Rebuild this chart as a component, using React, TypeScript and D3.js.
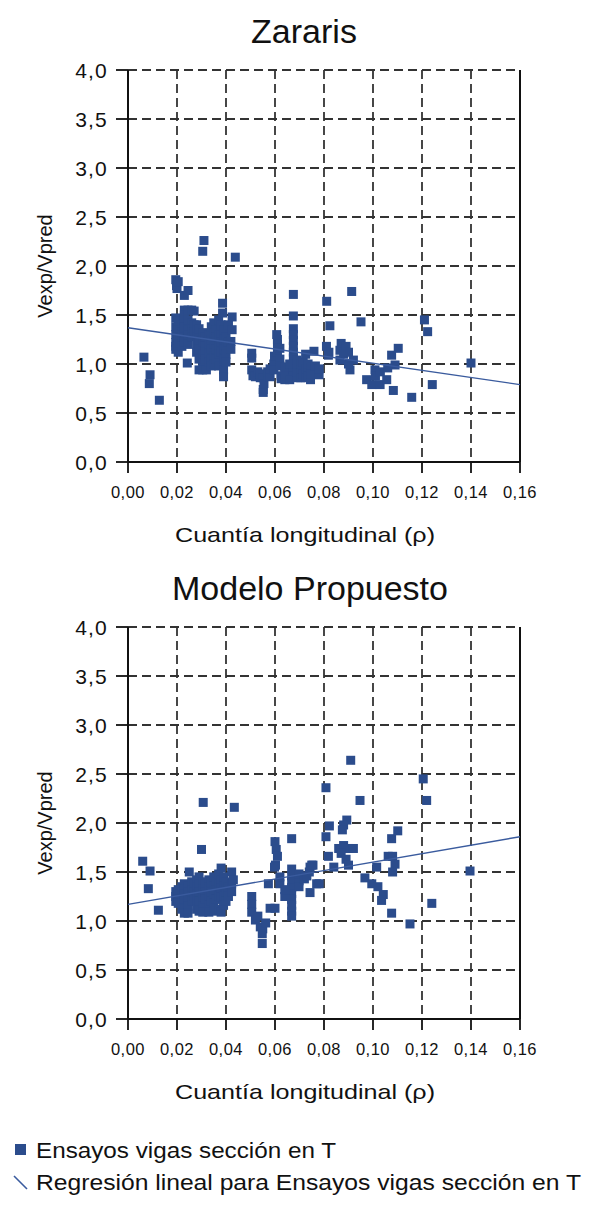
import React from "react";
import * as d3 from "d3";

const xTicks = [0, 0.02, 0.04, 0.06, 0.08, 0.1, 0.12, 0.14, 0.16];
const yTicks = [0, 0.5, 1, 1.5, 2, 2.5, 3, 3.5, 4];

const titles = ["Zararis", "Modelo Propuesto"];
const xTitle = "Cuantía longitudinal (ρ)";
const yTitle = "Vexp/Vpred";
const legendLabels = ["Ensayos vigas sección en T", "Regresión lineal para Ensayos vigas sección en T"];

// regression line endpoints [rho, ratio] at rho = 0 and rho = 0.16
const zararisRegression: [number, number][] = [[0, 1.37], [0.16, 0.79]];
const propuestoRegression: [number, number][] = [[0, 1.17], [0.16, 1.86]];

const zararisPoints: [number, number][] = [
  [0.0065, 1.07], [0.009, 0.89], [0.0087, 0.8], [0.0128, 0.63],
  [0.031, 2.26], [0.0305, 2.15], [0.0438, 2.09],
  [0.0195, 1.86], [0.0198, 1.8], [0.02, 1.77], [0.0195, 1.47], [0.0195, 1.38], [0.0195, 1.3], [0.0195, 1.22], [0.0195, 1.18], [0.0195, 1.15],
  [0.0205, 1.84], [0.0205, 1.44], [0.0205, 1.35], [0.0205, 1.28], [0.0205, 1.2], [0.0205, 1.12],
  [0.022, 1.4], [0.022, 1.33], [0.022, 1.25], [0.022, 1.18], [0.022, 1.3],
  [0.023, 1.7], [0.023, 1.55], [0.023, 1.5], [0.023, 1.45], [0.023, 1.38], [0.023, 1.28], [0.023, 1.22],
  [0.0245, 1.75], [0.0245, 1.55], [0.0245, 1.45], [0.0245, 1.35], [0.0245, 1.3], [0.0245, 1.2], [0.0242, 1.01],
  [0.026, 1.55], [0.026, 1.42], [0.026, 1.36], [0.026, 1.28],
  [0.027, 1.54], [0.027, 1.4], [0.027, 1.33],
  [0.028, 1.4], [0.028, 1.35], [0.028, 1.28], [0.028, 1.2], [0.028, 1.12],
  [0.029, 1.36], [0.029, 1.25], [0.029, 1.15], [0.029, 1.05], [0.029, 0.94],
  [0.0305, 1.32], [0.0305, 1.22], [0.0305, 1.1], [0.0305, 1.0], [0.0305, 0.94],
  [0.0315, 1.28], [0.0315, 1.18], [0.0315, 1.12], [0.0315, 1.05], [0.032, 0.94],
  [0.033, 1.3], [0.033, 1.2], [0.033, 1.1], [0.033, 1.02],
  [0.034, 1.38], [0.034, 1.25], [0.034, 1.15], [0.034, 1.05], [0.034, 0.98],
  [0.035, 1.42], [0.035, 1.32], [0.035, 1.2], [0.035, 1.08], [0.035, 1.0],
  [0.036, 1.35], [0.036, 1.28], [0.036, 1.15], [0.036, 1.05],
  [0.037, 1.45], [0.037, 1.3], [0.037, 1.18], [0.037, 1.1], [0.037, 0.98],
  [0.0386, 1.62], [0.0386, 1.52], [0.038, 1.4], [0.038, 1.3], [0.038, 1.22], [0.038, 1.12],
  [0.039, 1.35], [0.039, 1.25], [0.039, 1.15], [0.039, 1.05], [0.039, 0.94], [0.039, 0.87],
  [0.04, 1.28], [0.04, 1.18], [0.04, 1.1], [0.04, 1.02],
  [0.041, 1.4], [0.041, 1.22],
  [0.0425, 1.48], [0.0425, 1.35], [0.042, 1.23], [0.042, 1.15],
  [0.0505, 1.11], [0.0505, 1.06], [0.0505, 0.94], [0.051, 0.88],
  [0.052, 0.87], [0.053, 0.92], [0.054, 0.86], [0.054, 0.9],
  [0.0552, 0.86], [0.0552, 0.74], [0.0552, 0.71], [0.0555, 0.8],
  [0.057, 0.88], [0.057, 0.92], [0.058, 0.87], [0.058, 0.95],
  [0.0595, 1.0], [0.0595, 0.94], [0.0598, 1.08],
  [0.0607, 1.3], [0.061, 1.25], [0.061, 1.2], [0.061, 1.12],
  [0.062, 1.16], [0.062, 1.05], [0.062, 0.98], [0.0625, 0.88], [0.0625, 0.85],
  [0.064, 0.84], [0.064, 0.9], [0.064, 0.97],
  [0.0675, 1.71], [0.0675, 1.49], [0.0675, 1.36], [0.0675, 1.3], [0.0675, 1.24], [0.0675, 1.18], [0.0675, 1.12], [0.0675, 1.06], [0.0675, 1.0], [0.0675, 0.95], [0.0675, 0.88],
  [0.066, 0.84], [0.066, 1.0],
  [0.069, 0.86], [0.069, 0.92], [0.069, 1.0], [0.069, 1.04],
  [0.0705, 0.94], [0.0705, 1.0], [0.0705, 0.86],
  [0.0715, 0.9], [0.0715, 1.02], [0.0725, 1.1], [0.0725, 0.95], [0.0725, 0.86],
  [0.0735, 0.92], [0.0735, 0.88], [0.0735, 1.0],
  [0.0745, 0.84], [0.0745, 0.96], [0.0745, 0.9],
  [0.0759, 1.13], [0.0765, 0.98], [0.078, 0.89], [0.078, 0.95],
  [0.0811, 1.64], [0.0824, 1.39], [0.081, 1.18], [0.0818, 1.09], [0.082, 1.12],
  [0.0865, 1.14], [0.087, 1.21], [0.089, 1.18], [0.0865, 1.04], [0.088, 1.1], [0.0906, 0.94], [0.092, 1.04], [0.0913, 1.74], [0.09, 1.12], [0.09, 1.0],
  [0.0951, 1.43],
  [0.0974, 0.84], [0.0995, 0.79], [0.1008, 0.94], [0.1029, 0.79], [0.1056, 0.84], [0.1076, 1.09], [0.1103, 1.16], [0.1083, 0.73], [0.109, 0.99], [0.101, 0.88], [0.103, 0.92], [0.106, 0.96],
  [0.1158, 0.66], [0.121, 1.45], [0.1223, 1.33], [0.1242, 0.79], [0.14, 1.01],
];

const propuestoPoints: [number, number][] = [
  [0.006, 1.61], [0.009, 1.51], [0.0083, 1.33], [0.0124, 1.11],
  [0.0307, 2.21], [0.0434, 2.16], [0.03, 1.73],
  [0.0195, 1.3], [0.0195, 1.25], [0.0195, 1.2],
  [0.0205, 1.32], [0.0205, 1.28], [0.0205, 1.22], [0.0205, 1.18],
  [0.022, 1.35], [0.022, 1.3], [0.022, 1.25], [0.022, 1.18], [0.022, 1.12],
  [0.023, 1.38], [0.023, 1.33], [0.023, 1.28], [0.023, 1.22], [0.023, 1.08],
  [0.0245, 1.36], [0.0245, 1.3], [0.0245, 1.22], [0.0245, 1.15], [0.0245, 1.08],
  [0.025, 1.5],
  [0.026, 1.4], [0.026, 1.32], [0.026, 1.26], [0.026, 1.2],
  [0.027, 1.38], [0.027, 1.3], [0.027, 1.25],
  [0.028, 1.42], [0.028, 1.35], [0.028, 1.28], [0.028, 1.2], [0.028, 1.12],
  [0.029, 1.45], [0.029, 1.38], [0.029, 1.3], [0.029, 1.2], [0.029, 1.1],
  [0.0305, 1.4], [0.0305, 1.33], [0.0305, 1.25], [0.0305, 1.15], [0.0305, 1.09],
  [0.0315, 1.38], [0.0315, 1.3], [0.0315, 1.22],
  [0.033, 1.42], [0.033, 1.35], [0.033, 1.26], [0.033, 1.16], [0.033, 1.09],
  [0.034, 1.4], [0.034, 1.3], [0.034, 1.2],
  [0.035, 1.45], [0.035, 1.36], [0.035, 1.28], [0.035, 1.18], [0.035, 1.1],
  [0.036, 1.4], [0.036, 1.32], [0.036, 1.22],
  [0.037, 1.48], [0.037, 1.38], [0.037, 1.26], [0.037, 1.12],
  [0.038, 1.54], [0.038, 1.42], [0.038, 1.34], [0.038, 1.24], [0.038, 1.09],
  [0.039, 1.45], [0.039, 1.36], [0.039, 1.26], [0.039, 1.16],
  [0.04, 1.4], [0.04, 1.3], [0.04, 1.2],
  [0.041, 1.35], [0.041, 1.25],
  [0.0423, 1.5], [0.0423, 1.38], [0.0423, 1.3], [0.043, 1.42],
  [0.0505, 1.25], [0.0505, 1.17], [0.0505, 1.09], [0.052, 1.01], [0.053, 1.05],
  [0.054, 0.94], [0.055, 0.92], [0.0548, 0.87], [0.0548, 0.77], [0.0562, 0.98],
  [0.0573, 1.38], [0.058, 1.13], [0.06, 1.13],
  [0.06, 1.81], [0.0605, 1.73], [0.061, 1.66], [0.0602, 1.57], [0.0598, 1.55],
  [0.062, 1.38], [0.062, 1.45],
  [0.0668, 1.84], [0.0668, 1.53], [0.0668, 1.46], [0.0668, 1.4], [0.0668, 1.34], [0.0668, 1.28], [0.0668, 1.22], [0.0668, 1.16], [0.0668, 1.1], [0.0668, 1.05],
  [0.064, 1.25], [0.064, 1.32],
  [0.0698, 1.41], [0.0698, 1.35], [0.0698, 1.48],
  [0.0743, 1.55], [0.0755, 1.57], [0.0743, 1.29], [0.074, 1.5], [0.077, 1.38], [0.072, 1.43], [0.073, 1.46], [0.075, 1.57], [0.078, 1.38],
  [0.0909, 2.64], [0.0808, 2.36], [0.0947, 2.23], [0.1205, 2.45], [0.1219, 2.23],
  [0.0893, 2.03], [0.088, 1.98], [0.0875, 1.93], [0.0822, 1.97], [0.0808, 1.86], [0.0818, 1.66],
  [0.086, 1.74], [0.088, 1.77], [0.09, 1.74], [0.092, 1.74],
  [0.087, 1.69], [0.089, 1.63], [0.09, 1.57], [0.084, 1.55],
  [0.0967, 1.44], [0.0995, 1.38], [0.102, 1.35], [0.1015, 1.55], [0.1042, 1.27], [0.1035, 1.21], [0.1076, 1.08],
  [0.1062, 1.66], [0.108, 1.66], [0.109, 1.58], [0.108, 1.5], [0.1076, 1.84], [0.1101, 1.92],
  [0.124, 1.18], [0.1151, 0.97], [0.1396, 1.51],
];

const BLUE = "#2b4c8c";
const LINE_BLUE = "#3a5b9e";
const FONT = "'Liberation Sans', Arial, Helvetica, sans-serif";

const fmtX = (v: number) => d3.format(".2f")(v).replace(".", ",");
const fmtY = (v: number) => d3.format(".1f")(v).replace(".", ",");

function Panel({ title, points, reg, top, titleX }: { title: string; points: [number, number][]; reg: [number, number][]; top: number; titleX: number }) {
  const left = 128, right = 520, h = 392;
  const x = d3.scaleLinear().domain([0, 0.16]).range([left, right]);
  const y = d3.scaleLinear().domain([0, 4]).range([top + h, top]);
  const line = d3.line<[number, number]>().x((d) => x(d[0])).y((d) => y(d[1]));
  const s = 9;
  return (
    <g>
      <text x={titleX} y={top - 27} textAnchor="middle" fontSize={34} fontFamily={FONT} fill="#111">{title}</text>
      {/* grid */}
      {yTicks.filter((t) => t > 0).map((t) => (
        <line key={"gy" + t} x1={left} x2={right} y1={y(t)} y2={y(t)} stroke="#333" strokeWidth={1.8} strokeDasharray="9,5" />
      ))}
      {xTicks.filter((t) => t > 0 && t < 0.159).map((t) => (
        <line key={"gx" + t} x1={x(t)} x2={x(t)} y1={top} y2={top + h} stroke="#333" strokeWidth={1.8} strokeDasharray="9,5" />
      ))}
      {/* axes */}
      <line x1={left} x2={left} y1={top} y2={top + h} stroke="#111" strokeWidth={2} />
      <line x1={left} x2={right} y1={top + h} y2={top + h} stroke="#111" strokeWidth={2} />
      <line x1={right} x2={right} y1={top} y2={top + h} stroke="#111" strokeWidth={2} />
      {yTicks.map((t) => (
        <g key={"ty" + t}>
          <line x1={left - 12} x2={left} y1={y(t)} y2={y(t)} stroke="#111" strokeWidth={1.8} />
          <text x={108} y={y(t) + 8} textAnchor="end" fontSize={21} fontFamily={FONT} fill="#111" letterSpacing={1.2}>{fmtY(t)}</text>
        </g>
      ))}
      {xTicks.map((t) => (
        <g key={"tx" + t}>
          <line x1={x(t)} x2={x(t)} y1={top + h} y2={top + h + 11} stroke="#111" strokeWidth={1.8} />
          <text x={x(t)} y={top + h + 36} textAnchor="middle" fontSize={16.5} fontFamily={FONT} fill="#111" letterSpacing={0.5}>{fmtX(t)}</text>
        </g>
      ))}
      {/* points */}
      {points.map((p, i) => (
        <rect key={i} x={x(p[0]) - s / 2} y={y(p[1]) - s / 2} width={s} height={s} fill={BLUE} />
      ))}
      <path d={line(reg) || ""} stroke={LINE_BLUE} strokeWidth={1.4} fill="none" />
      {/* axis titles */}
      <text x={305} y={top + h + 80} textAnchor="middle" fontSize={21} fontFamily={FONT} fill="#111" textLength={260} lengthAdjust="spacingAndGlyphs">{xTitle}</text>
      <text transform={`translate(52,${top + h / 2}) rotate(-90)`} textAnchor="middle" fontSize={20} fontFamily={FONT} fill="#111">{yTitle}</text>
    </g>
  );
}

export default function App() {
  return (
    <svg width={609} height={1221} style={{ position: "absolute", left: 0, top: 0, background: "#fff" }}>
      <rect width={609} height={1221} fill="#fff" />
      <Panel title={titles[0]} points={zararisPoints} reg={zararisRegression} top={70} titleX={304} />
      <Panel title={titles[1]} points={propuestoPoints} reg={propuestoRegression} top={627} titleX={310} />
      <rect x={15} y={1144} width={11} height={11} fill={BLUE} />
      <text x={36} y={1158} fontSize={22} fontFamily={FONT} fill="#111" textLength={300} lengthAdjust="spacingAndGlyphs">{legendLabels[0]}</text>
      <line x1={14} y1={1176} x2={27} y2={1189} stroke={LINE_BLUE} strokeWidth={1.6} />
      <text x={36} y={1190} fontSize={22} fontFamily={FONT} fill="#111" textLength={545} lengthAdjust="spacingAndGlyphs">{legendLabels[1]}</text>
    </svg>
  );
}
